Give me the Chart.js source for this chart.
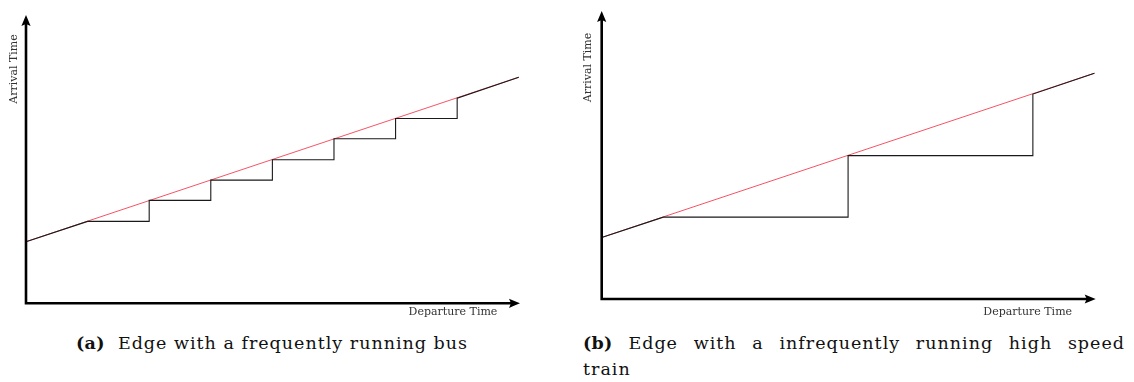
<!DOCTYPE html>
<html>
<head>
<meta charset="utf-8">
<script src="https://cdn.jsdelivr.net/npm/chart.js@4.4.1/dist/chart.umd.min.js"></script>
<style>
  html, body { margin: 0; padding: 0; background: #fff; }
  #page { position: relative; width: 1134px; height: 382px; overflow: hidden; background: #fff; }
  .panel { position: absolute; top: 0; height: 330px; }
  .cap { position: absolute; font-family: "DejaVu Serif", serif; font-size: 17.5px; line-height: 26px; letter-spacing: 1px; color: #111; white-space: nowrap; }
  .cap b { font-weight: bold; letter-spacing: 0.3px; }
  #capA { left: 0; width: 544px; text-align: center; top: 330px; }
  #capB { left: 583px; width: 542px; top: 330px; }
  #capB .l1 { text-align: justify; text-align-last: justify; }
  #capB .l2 { text-align: left; }
</style>
</head>
<body>
<div id="page">
  <div class="panel" style="left:0;width:567px;"><canvas id="chartA" width="567" height="330"></canvas></div>
  <div class="panel" style="left:575px;width:559px;"><canvas id="chartB" width="559" height="330"></canvas></div>
  <div class="cap" id="capA"><b>(a)</b>&nbsp; Edge with a frequently running bus</div>
  <div class="cap" id="capB"><div class="l1"><b>(b)</b> Edge with a infrequently running high speed</div><div class="l2">train</div></div>
</div>
<script>
// ---- Data ----
const xLabel = "Departure Time";
const yLabel = "Arrival Time";

// Red line: arrival time as a straight line over departure time
const lineX = [0, 8];
const lineY = [1.0, 3.67];

// (a) frequently running bus: step function
const busX = [0, 1, 2, 2, 3, 3, 4, 4, 5, 5, 6, 6, 7, 7, 8];
const busY = [1.0, 1.33, 1.33, 1.67, 1.67, 2.0, 2.0, 2.33, 2.33, 2.67, 2.67, 3.0, 3.0, 3.33, 3.67];

// (b) infrequently running high speed train: step function
const trainX = [0, 1, 4, 4, 7, 7, 8];
const trainY = [1.0, 1.33, 1.33, 2.33, 2.33, 3.33, 3.67];

// axis ranges
const xRange = [0, 8.02];
const yRange = [0, 4.68];

const toPts = (xs, ys) => xs.map((x, i) => ({ x: x, y: ys[i] }));

const arrowAxes = {
  id: 'arrowAxes',
  afterDatasetsDraw(chart, args, o) {
    const ctx = chart.ctx;
    const xs = chart.scales.x, ys = chart.scales.y;
    const x0 = xs.getPixelForValue(xs.min);
    const y0 = ys.getPixelForValue(ys.min);
    const xe = xs.getPixelForValue(xs.max);
    const ye = ys.getPixelForValue(ys.max);
    ctx.save();
    ctx.strokeStyle = '#000';
    ctx.fillStyle = '#000';
    ctx.lineWidth = 2.6;
    ctx.lineCap = 'butt';
    ctx.beginPath();
    ctx.moveTo(x0 - 1.3, y0);
    ctx.lineTo(xe - 7, y0);
    ctx.moveTo(x0, y0 + 1.3);
    ctx.lineTo(x0, ye + 7);
    ctx.stroke();
    // arrow heads
    const L = 11, W = 4.6, B = 2;
    ctx.beginPath();
    ctx.moveTo(xe, y0);
    ctx.quadraticCurveTo(xe - L * 0.55, y0 - W * 0.55, xe - L, y0 - W);
    ctx.lineTo(xe - L + B, y0);
    ctx.lineTo(xe - L, y0 + W);
    ctx.quadraticCurveTo(xe - L * 0.55, y0 + W * 0.55, xe, y0);
    ctx.fill();
    ctx.beginPath();
    ctx.moveTo(x0, ye);
    ctx.quadraticCurveTo(x0 - W * 0.55, ye + L * 0.55, x0 - W, ye + L);
    ctx.lineTo(x0, ye + L - B);
    ctx.lineTo(x0 + W, ye + L);
    ctx.quadraticCurveTo(x0 + W * 0.55, ye + L * 0.55, x0, ye);
    ctx.fill();
    // axis labels
    ctx.fillStyle = '#333';
    ctx.font = '11px "DejaVu Serif", serif';
    ctx.textAlign = 'center';
    ctx.textBaseline = 'middle';
    ctx.fillText(o.xLabel, xe + o.xdx, y0 + o.xdy);
    ctx.translate(x0 + o.ydx, ye + o.ydy);
    ctx.rotate(-Math.PI / 2);
    ctx.fillText(o.yLabel, 0, 0);
    ctx.restore();
  }
};

function makeChart(id, stepX, stepY, pad, lab) {
  return new Chart(document.getElementById(id), {
    type: 'scatter',
    data: {
      datasets: [
        {
          label: 'connection',
          data: toPts(stepX, stepY),
          showLine: true,
          borderColor: '#1a1a1a',
          borderWidth: 1.1,
          pointRadius: 0,
          tension: 0,
          fill: false,
          clip: false
        },
        {
          label: 'line',
          data: toPts(lineX, lineY),
          showLine: true,
          borderColor: 'rgb(246,84,100)',
          borderWidth: 1,
          pointRadius: 0,
          tension: 0,
          fill: false,
          clip: false
        }
      ]
    },
    options: {
      responsive: false,
      animation: false,
      devicePixelRatio: 1,
      layout: { padding: pad },
      plugins: {
        legend: { display: false },
        tooltip: { enabled: false },
        arrowAxes: lab
      },
      scales: {
        x: { type: 'linear', min: xRange[0], max: xRange[1], display: false },
        y: { type: 'linear', min: yRange[0], max: yRange[1], display: false }
      }
    },
    plugins: [arrowAxes]
  });
}

makeChart('chartA', busX, busY,
  { left: 26, right: 47, top: 15, bottom: 26.7 },
  { xLabel: xLabel, yLabel: yLabel, xdx: -67, xdy: 9.3, ydx: -12, ydy: 54 });
makeChart('chartB', trainX, trainY,
  { left: 26.7, right: 38.3, top: 11, bottom: 31 },
  { xLabel: xLabel, yLabel: yLabel, xdx: -68, xdy: 13.3, ydx: -13.7, ydy: 56.5 });
</script>
</body>
</html>
